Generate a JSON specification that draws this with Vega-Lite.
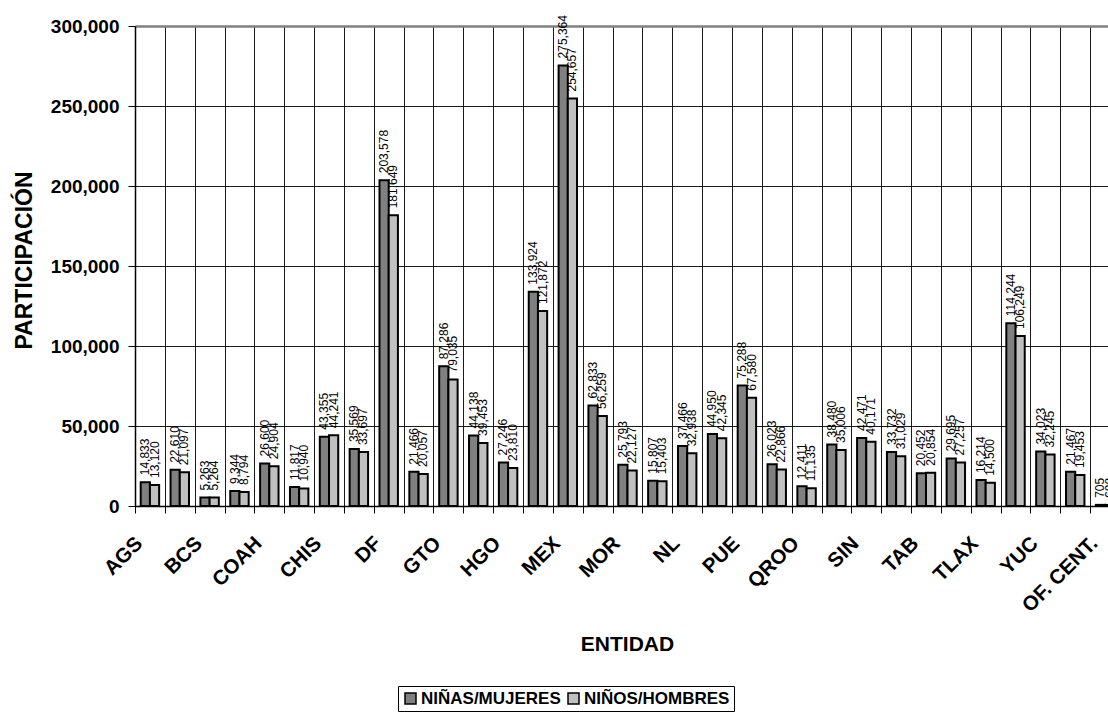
{
  "$schema": "https://vega.github.io/schema/vega-lite/v6.json",
  "autosize": {"type": "none"},
  "padding": {"left": 135, "top": 26, "right": 0, "bottom": 213},
  "width": 973,
  "height": 480,
  "background": "white",
  "config": {
    "font": "Liberation Sans",
    "view": {"stroke": null}
  },
  "data": {
    "values": [
      {"e": "AGS", "s": "NIÑAS/MUJERES", "v": 14833}, {"e": "AGS", "s": "NIÑOS/HOMBRES", "v": 13120},
      {"e": "BC", "s": "NIÑAS/MUJERES", "v": 22610}, {"e": "BC", "s": "NIÑOS/HOMBRES", "v": 21097},
      {"e": "BCS", "s": "NIÑAS/MUJERES", "v": 5263}, {"e": "BCS", "s": "NIÑOS/HOMBRES", "v": 5264},
      {"e": "CAMP", "s": "NIÑAS/MUJERES", "v": 9344}, {"e": "CAMP", "s": "NIÑOS/HOMBRES", "v": 8794},
      {"e": "COAH", "s": "NIÑAS/MUJERES", "v": 26600}, {"e": "COAH", "s": "NIÑOS/HOMBRES", "v": 24904},
      {"e": "COL", "s": "NIÑAS/MUJERES", "v": 11817}, {"e": "COL", "s": "NIÑOS/HOMBRES", "v": 10940},
      {"e": "CHIS", "s": "NIÑAS/MUJERES", "v": 43355}, {"e": "CHIS", "s": "NIÑOS/HOMBRES", "v": 44241},
      {"e": "CHIH", "s": "NIÑAS/MUJERES", "v": 35569}, {"e": "CHIH", "s": "NIÑOS/HOMBRES", "v": 33697},
      {"e": "DF", "s": "NIÑAS/MUJERES", "v": 203578}, {"e": "DF", "s": "NIÑOS/HOMBRES", "v": 181649},
      {"e": "DGO", "s": "NIÑAS/MUJERES", "v": 21466}, {"e": "DGO", "s": "NIÑOS/HOMBRES", "v": 20057},
      {"e": "GTO", "s": "NIÑAS/MUJERES", "v": 87286}, {"e": "GTO", "s": "NIÑOS/HOMBRES", "v": 79035},
      {"e": "GRO", "s": "NIÑAS/MUJERES", "v": 44138}, {"e": "GRO", "s": "NIÑOS/HOMBRES", "v": 39453},
      {"e": "HGO", "s": "NIÑAS/MUJERES", "v": 27246}, {"e": "HGO", "s": "NIÑOS/HOMBRES", "v": 23810},
      {"e": "JAL", "s": "NIÑAS/MUJERES", "v": 133924}, {"e": "JAL", "s": "NIÑOS/HOMBRES", "v": 121872},
      {"e": "MEX", "s": "NIÑAS/MUJERES", "v": 275364}, {"e": "MEX", "s": "NIÑOS/HOMBRES", "v": 254657},
      {"e": "MICH", "s": "NIÑAS/MUJERES", "v": 62833}, {"e": "MICH", "s": "NIÑOS/HOMBRES", "v": 56259},
      {"e": "MOR", "s": "NIÑAS/MUJERES", "v": 25793}, {"e": "MOR", "s": "NIÑOS/HOMBRES", "v": 22127},
      {"e": "NAY", "s": "NIÑAS/MUJERES", "v": 15807}, {"e": "NAY", "s": "NIÑOS/HOMBRES", "v": 15403},
      {"e": "NL", "s": "NIÑAS/MUJERES", "v": 37466}, {"e": "NL", "s": "NIÑOS/HOMBRES", "v": 32938},
      {"e": "OAX", "s": "NIÑAS/MUJERES", "v": 44950}, {"e": "OAX", "s": "NIÑOS/HOMBRES", "v": 42345},
      {"e": "PUE", "s": "NIÑAS/MUJERES", "v": 75288}, {"e": "PUE", "s": "NIÑOS/HOMBRES", "v": 67580},
      {"e": "QRO", "s": "NIÑAS/MUJERES", "v": 26023}, {"e": "QRO", "s": "NIÑOS/HOMBRES", "v": 22866},
      {"e": "QROO", "s": "NIÑAS/MUJERES", "v": 12411}, {"e": "QROO", "s": "NIÑOS/HOMBRES", "v": 11135},
      {"e": "SLP", "s": "NIÑAS/MUJERES", "v": 38480}, {"e": "SLP", "s": "NIÑOS/HOMBRES", "v": 35006},
      {"e": "SIN", "s": "NIÑAS/MUJERES", "v": 42471}, {"e": "SIN", "s": "NIÑOS/HOMBRES", "v": 40171},
      {"e": "SON", "s": "NIÑAS/MUJERES", "v": 33732}, {"e": "SON", "s": "NIÑOS/HOMBRES", "v": 31029},
      {"e": "TAB", "s": "NIÑAS/MUJERES", "v": 20452}, {"e": "TAB", "s": "NIÑOS/HOMBRES", "v": 20854},
      {"e": "TAMPS", "s": "NIÑAS/MUJERES", "v": 29695}, {"e": "TAMPS", "s": "NIÑOS/HOMBRES", "v": 27257},
      {"e": "TLAX", "s": "NIÑAS/MUJERES", "v": 16214}, {"e": "TLAX", "s": "NIÑOS/HOMBRES", "v": 14500},
      {"e": "VER", "s": "NIÑAS/MUJERES", "v": 114244}, {"e": "VER", "s": "NIÑOS/HOMBRES", "v": 106249},
      {"e": "YUC", "s": "NIÑAS/MUJERES", "v": 34023}, {"e": "YUC", "s": "NIÑOS/HOMBRES", "v": 32245},
      {"e": "ZAC", "s": "NIÑAS/MUJERES", "v": 21467}, {"e": "ZAC", "s": "NIÑOS/HOMBRES", "v": 19453},
      {"e": "OF. CENT.", "s": "NIÑAS/MUJERES", "v": 705}, {"e": "OF. CENT.", "s": "NIÑOS/HOMBRES", "v": 688}
    ]
  },
  "encoding": {
    "x": {
      "field": "e",
      "type": "nominal",
      "sort": null,
      "scale": {"range": [0, 985], "paddingInner": 0, "paddingOuter": 0},
      "axis": {
        "title": "ENTIDAD",
        "titleFont": "Liberation Sans",
        "titleFontSize": 21,
        "titleFontWeight": "bold",
        "titleColor": "#000",
        "titleBaseline": "top",
        "titleY": 127,
        "titleX": 492,
        "labelExpr": "indexof(['AGS','BCS','COAH','CHIS','DF','GTO','HGO','MEX','MOR','NL','PUE','QROO','SIN','TAB','TLAX','YUC','OF. CENT.'], datum.value) >= 0 ? datum.label : ''",
        "labelAngle": -45,
        "labelAlign": "right",
        "labelBaseline": "middle",
        "labelFont": "Liberation Sans",
        "labelFontSize": 20.5,
        "labelFontWeight": "bold",
        "labelColor": "#000",
        "labelPadding": 27,
        "labelOffset": -11,
        "labelOverlap": false,
        "labelLimit": 300,
        "tickBand": "extent",
        "ticks": true,
        "tickSize": 7,
        "tickColor": "#000",
        "domainColor": "#000",
        "domainWidth": 1.5,
        "grid": true,
        "gridColor": "#1a1a1a",
        "gridWidth": 1
      }
    },
    "y": {
      "field": "v",
      "type": "quantitative",
      "scale": {"domain": [0, 300000], "nice": false},
      "axis": {
        "title": "PARTICIPACIÓN",
        "titleFont": "Liberation Sans",
        "titleFontSize": 23,
        "titleFontWeight": "bold",
        "titleColor": "#000",
        "titleAngle": -90,
        "titleBaseline": "middle",
        "titleAlign": "center",
        "titleX": -111,
        "titleY": 234,
        "values": [0, 50000, 100000, 150000, 200000, 250000, 300000],
        "format": ",.0f",
        "labelFont": "Liberation Sans",
        "labelFontSize": 19,
        "labelFontWeight": "bold",
        "labelColor": "#000",
        "labelPadding": 9,
        "tickSize": 7,
        "tickColor": "#000",
        "domainColor": "#000",
        "domainWidth": 1.5,
        "grid": true,
        "gridColor": {"condition": {"test": "datum.value === 300000", "value": "#808080"}, "value": "#1a1a1a"},
        "gridWidth": {"condition": {"test": "datum.value === 300000", "value": 2.5}, "value": 1}
      }
    },
    "xOffset": {
      "field": "s",
      "type": "nominal",
      "sort": ["NIÑAS/MUJERES", "NIÑOS/HOMBRES"],
      "scale": {"paddingInner": 0, "paddingOuter": 0.62}
    }
  },
  "layer": [
    {
      "mark": {"type": "bar", "stroke": "#000", "strokeWidth": 2},
      "encoding": {
        "fill": {
          "field": "s",
          "type": "nominal",
          "sort": ["NIÑAS/MUJERES", "NIÑOS/HOMBRES"],
          "scale": {"domain": ["NIÑAS/MUJERES", "NIÑOS/HOMBRES"], "range": ["#808080", "#c0c0c0"]},
          "legend": {
            "title": null,
            "orient": "none",
            "direction": "horizontal",
            "legendX": 263,
            "legendY": 660,
            "padding": 4,
            "strokeColor": "#000",
            "fillColor": "#fff",
            "symbolType": "square",
            "symbolSize": 121,
            "symbolStrokeColor": "#000",
            "symbolStrokeWidth": 1.5,
            "symbolOpacity": 1,
            "labelFont": "Liberation Sans",
            "labelFontSize": 17,
            "labelFontWeight": "bold",
            "labelColor": "#000",
            "labelOffset": 2,
            "columnPadding": 4,
            "labelLimit": 400
          }
        }
      }
    },
    {
      "mark": {"type": "text", "angle": 270, "align": "left", "baseline": "middle", "dx": 7, "fontSize": 12, "font": "Liberation Sans", "color": "#000"},
      "encoding": {
        "text": {"field": "v", "type": "quantitative", "format": ","}
      }
    }
  ]
}
